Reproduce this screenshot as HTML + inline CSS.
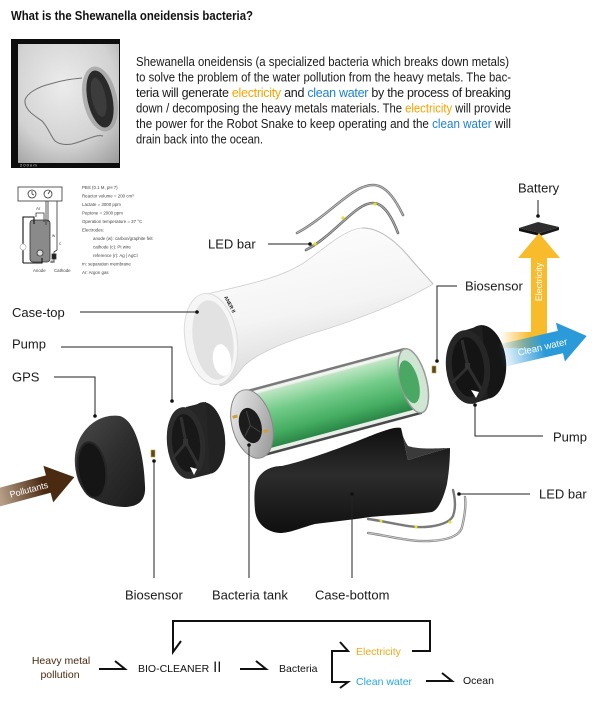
<!DOCTYPE html>
<html><head><meta charset="utf-8"><style>
html,body{margin:0;padding:0;background:#fff;}
svg{display:block;}
text{font-family:"Liberation Sans","DejaVu Sans",sans-serif;}
</style></head><body>
<svg width="600" height="705" viewBox="0 0 600 705" xmlns="http://www.w3.org/2000/svg">
<defs>
<radialGradient id="photo" cx="0.45" cy="0.35" r="0.85">
<stop offset="0" stop-color="#ececec"/><stop offset="0.6" stop-color="#d2d2d2"/><stop offset="1" stop-color="#9a9a9a"/>
</radialGradient>
<linearGradient id="caseTop" x1="0" y1="0" x2="0.3" y2="1">
<stop offset="0" stop-color="#ffffff"/><stop offset="0.6" stop-color="#f4f4f4"/><stop offset="1" stop-color="#d6d6d6"/>
</linearGradient>
<linearGradient id="green" x1="0" y1="0" x2="0" y2="1">
<stop offset="0" stop-color="#bfe6c4"/><stop offset="0.35" stop-color="#74cc8a"/><stop offset="0.75" stop-color="#45ad62"/><stop offset="1" stop-color="#2a8646"/>
</linearGradient>
<linearGradient id="silver" x1="0" y1="0" x2="1" y2="1">
<stop offset="0" stop-color="#f2f2f2"/><stop offset="0.5" stop-color="#c4c4c4"/><stop offset="1" stop-color="#8c8c8c"/>
</linearGradient>
<linearGradient id="black1" x1="0" y1="0" x2="1" y2="1">
<stop offset="0" stop-color="#4a4a4a"/><stop offset="0.5" stop-color="#2e2e2e"/><stop offset="1" stop-color="#1a1a1a"/>
</linearGradient>
<linearGradient id="caseBot" x1="0" y1="0" x2="0" y2="1">
<stop offset="0" stop-color="#101010"/><stop offset="0.45" stop-color="#2c2c2c"/><stop offset="1" stop-color="#0f0f0f"/>
</linearGradient>
<linearGradient id="yel" x1="500" y1="0" x2="530" y2="0" gradientUnits="userSpaceOnUse">
<stop offset="0" stop-color="#f7bb2c" stop-opacity="0"/><stop offset="1" stop-color="#f7bb2c"/>
</linearGradient>
<linearGradient id="blu" x1="0" y1="0" x2="45" y2="0" gradientUnits="userSpaceOnUse">
<stop offset="0" stop-color="#2a9ad8" stop-opacity="0"/><stop offset="1" stop-color="#2a9ad8"/>
</linearGradient>
<linearGradient id="brn" x1="0" y1="0" x2="45" y2="0" gradientUnits="userSpaceOnUse">
<stop offset="0" stop-color="#b8a088"/><stop offset="1" stop-color="#4b2a12"/>
</linearGradient>
</defs>

<!-- Title -->
<text x="11" y="20" font-size="13" font-weight="bold" fill="#111" textLength="242" lengthAdjust="spacingAndGlyphs">What is the Shewanella oneidensis bacteria?</text>

<!-- Photo -->
<rect x="11" y="39" width="109" height="129" fill="#0d0d0d"/>
<rect x="18" y="44" width="101" height="119" fill="url(#photo)"/>
<path d="M82,78 C72,79 63,80 50,84 C38,87 27,93 25,100 C24,110 35,116 42,121 C48,127 50,135 55,141 C60,145 66,145 72,144 C85,141 95,134 103,136" fill="none" stroke="#707070" stroke-width="1"/>
<ellipse cx="100" cy="99" rx="17" ry="33" transform="rotate(-12 100 99)" fill="#9a9a9a" opacity="0.7"/>
<ellipse cx="100" cy="99" rx="12.5" ry="29" transform="rotate(-12 100 99)" fill="#2a2a2a"/>
<ellipse cx="99" cy="97" rx="7" ry="20" transform="rotate(-12 100 99)" fill="#3c3c3c"/>
<text x="20" y="166.5" font-size="4" fill="#ddd">2 0 0 n m</text>

<!-- Paragraph -->
<g font-size="12.5" fill="#1a1a1a">
<text x="136" y="66" textLength="373" lengthAdjust="spacingAndGlyphs">Shewanella oneidensis (a specialized bacteria which breaks down metals)</text>
<text x="136" y="81.5" textLength="375" lengthAdjust="spacingAndGlyphs">to solve the problem of the water pollution from the heavy metals. The bac-</text>
<text x="136" y="97" textLength="375" lengthAdjust="spacing">teria will generate <tspan fill="#f4a300">electricity</tspan> and <tspan fill="#1b82d2">clean water</tspan> by the process of breaking</text>
<text x="136" y="112.5" textLength="375" lengthAdjust="spacingAndGlyphs">down / decomposing the heavy metals materials. The <tspan fill="#f4a300">electricity</tspan> will provide</text>
<text x="136" y="128" textLength="375" lengthAdjust="spacingAndGlyphs">the power for the Robot Snake to keep operating and the <tspan fill="#1b82d2">clean water</tspan> will</text>
<text x="136" y="143.5" textLength="127" lengthAdjust="spacingAndGlyphs">drain back into the ocean.</text>
</g>

<!-- Electrochem diagram -->
<g stroke="#333" stroke-width="0.8" fill="none">
<rect x="18" y="187" width="44" height="14"/>
<circle cx="32" cy="194" r="4" fill="#fff"/>
<circle cx="48" cy="194" r="4" fill="#fff"/>
<path d="M32,194 L32,191 M32,194 L34,195 M48,194 L50,191"/>
<rect x="30" y="220" width="20" height="42" rx="3" fill="#8a8a8a"/>
<path d="M46,201 L46,225 M48,201 L48,222 M57,201 L57,250 L54,252 L54,262 L50,262"/>
<path d="M23,263 L23,217 L34,217 L34,224 M23,263 L42,263 L42,258" stroke="#111" stroke-width="1.1"/>
<path d="M36,217 L36,213 L44,213 L44,222"/>
<circle cx="40" cy="253" r="3" fill="#ddd"/>
<circle cx="23" cy="247" r="3" fill="#fff" stroke="#bbb"/>
<rect x="52" y="254" width="4" height="5" fill="#222"/>
</g>
<g font-size="4.4" fill="#444">
<text x="36" y="210">Ar</text><text x="52" y="237">w</text><text x="59" y="245">c</text><text x="51" y="263">m</text>
<text x="33" y="272">Anode</text><text x="54" y="272">Cathode</text>
<text x="82" y="189">PBS (0.1 M, pH 7)</text>
<text x="82" y="197.5">Reactor volume = 200 cm³</text>
<text x="82" y="206">Lactate = 3000 ppm</text>
<text x="82" y="214.5">Peptone = 2000 ppm</text>
<text x="82" y="223">Operation temperature = 37 °C</text>
<text x="82" y="231.5">Electrodes:</text>
<text x="93" y="240">anode (w): carbon/graphite felt</text>
<text x="93" y="248.5">cathode (c): Pt wire</text>
<text x="93" y="257">reference (r): Ag | AgCl</text>
<text x="82" y="265.5">m: separation membrane</text>
<text x="82" y="274">Ar: Argon gas</text>
</g>

<!-- LED bars upper -->
<g fill="none" stroke-linecap="round">
<path d="M297,233 C330,215 352,185 373,185 C388,185 398,205 403,215" stroke="#7a7a7a" stroke-width="2.6"/>
<path d="M297,233 C330,215 352,185 373,185 C388,185 398,205 403,215" stroke="#c8c8c8" stroke-width="0.8"/>
<path d="M306,250 C335,235 355,203 373,203 C385,203 393,220 398,233" stroke="#6a6a6a" stroke-width="2.6"/>
<path d="M306,250 C335,235 355,203 373,203 C385,203 393,220 398,233" stroke="#bcbcbc" stroke-width="0.8"/>
</g>
<circle cx="315" cy="244" r="1.6" fill="#e6e020"/><circle cx="343" cy="218" r="1.6" fill="#e6e020"/><circle cx="375" cy="204" r="1.6" fill="#e6e020"/>

<!-- Case-top -->
<path d="M207,294 C240,286 280,279 305,262 C325,248 345,229 362,228 C378,227 396,241 410,258 C420,270 429,279 433,284 C410,298 370,315 330,328 C290,340 258,352 244,366 C236,376 230,384 220,386 Z" fill="url(#caseTop)" stroke="#cfcfcf" stroke-width="0.8"/>
<path d="M362,228 C378,227 396,241 410,258 C420,270 429,279 433,284" fill="none" stroke="#bdbdbd" stroke-width="1"/>
<ellipse cx="211" cy="339" rx="26" ry="46" transform="rotate(-9 211 339)" fill="#f6f6f6" stroke="#dcdcdc" stroke-width="1"/>
<ellipse cx="213" cy="340" rx="20" ry="40" transform="rotate(-9 213 340)" fill="#e2e2e2"/>
<ellipse cx="222" cy="360" rx="9" ry="16" transform="rotate(-9 222 360)" fill="#ffffff"/>
<text x="224" y="297" font-size="5" font-weight="bold" fill="#222" transform="rotate(62 224 297)">ANER II</text>

<!-- Bacteria tank -->
<g transform="translate(252,424) rotate(-15)">
<rect x="0" y="-33" width="167" height="66" fill="#e8eee8" stroke="#a0a0a0" stroke-width="1"/>
<rect x="6" y="-28" width="156" height="56" fill="url(#green)"/>
<path d="M0,-33 L167,-33" stroke="#7a7a7a" stroke-width="2.5"/>
<path d="M4,-30 L160,-30" stroke="#ffffff" stroke-width="1" opacity="0.7"/>
<path d="M0,33 L167,33" stroke="#4a4a4a" stroke-width="2.5"/>
<ellipse cx="167" cy="0" rx="13" ry="33" fill="#cfe6d2" stroke="#9a9a9a" stroke-width="1.5"/>
<ellipse cx="163" cy="0" rx="9" ry="22" fill="#4aa864"/>
<ellipse cx="0" cy="0" rx="20" ry="35" fill="url(#silver)" stroke="#888" stroke-width="1"/>
<ellipse cx="-2" cy="1" rx="11" ry="18" fill="#1c1c1c"/>
<path d="M-2,1 L-2,-14 M-2,1 L-10,10 M-2,1 L6,10" stroke="#444" stroke-width="1"/>
<rect x="-17" y="-13" width="5" height="3" fill="#c9a23a"/>
<rect x="9" y="9" width="5" height="3" fill="#c9a23a"/>
</g>

<!-- Case-bottom -->
<path d="M257,480 C262,470 272,466 282,466 C300,462 330,452 360,440 C380,432 395,426 401,428 C404,440 406,452 408,460 C425,455 440,450 450,448 C450,465 448,478 447,484 C443,500 438,510 432,512 C410,515 390,515 370,517 C350,520 330,522 315,524 C300,528 290,533 280,533 C265,532 256,522 255,510 C254,498 254,488 257,480 Z" fill="url(#caseBot)"/>
<path d="M401,428 C404,440 406,452 408,460 C425,455 440,450 450,448 C440,448 420,450 408,446 C404,440 402,434 401,428 Z" fill="#3a3a3a"/>

<!-- LED bars right -->
<g fill="none" stroke-linecap="round">
<path d="M368,519 C390,522 410,528 425,527 C440,526 450,522 453,516 C456,508 455,498 453,490" stroke="#7a7a7a" stroke-width="2.4"/>
<path d="M368,533 C390,536 410,542 430,541 C450,540 460,535 462,527 C465,515 466,505 465,497" stroke="#8a8a8a" stroke-width="2.4"/>
<path d="M368,533 C390,536 410,542 430,541 C450,540 460,535 462,527 C465,515 466,505 465,497" stroke="#d6d6d6" stroke-width="0.8"/>
</g>
<circle cx="381" cy="521" r="1.5" fill="#e6e020"/><circle cx="416" cy="527" r="1.5" fill="#e6e020"/><circle cx="450" cy="522" r="1.5" fill="#e6e020"/>

<!-- GPS dome -->
<path d="M80,438 C90,420 106,414 120,416 C136,421 144,455 145,486 C146,500 139,507 124,507 C104,506 85,499 78,480 C73,465 74,450 80,438 Z" fill="url(#black1)"/>
<ellipse cx="92" cy="470" rx="14" ry="28" transform="rotate(-8 92 470)" fill="#151515" stroke="#262626" stroke-width="2"/>

<!-- Left pump -->
<ellipse cx="206" cy="438" rx="19" ry="36" transform="rotate(-6 206 438)" fill="#222"/>
<path d="M186,407 L206,402 L210,474 L190,479 Z" fill="#262626"/>
<ellipse cx="186" cy="443" rx="19" ry="36" transform="rotate(-6 186 443)" fill="#2c2c2c"/>
<ellipse cx="186" cy="443" rx="14" ry="29" transform="rotate(-6 186 443)" fill="#181818"/>
<path d="M186,443 L181,417 M186,443 L172,459 M186,443 L198,465" stroke="#303030" stroke-width="3"/>
<path d="M190,467 L197,469 L194,475 Z" fill="#fff"/>
<rect x="183" y="439" width="5" height="6" fill="#333"/>

<!-- Right pump -->
<ellipse cx="484" cy="362" rx="22" ry="37" transform="rotate(-6 484 362)" fill="#161616"/>
<path d="M466,330 L482,325 L488,399 L472,404 Z" fill="#1f1f1f"/>
<ellipse cx="468" cy="367" rx="22" ry="37" transform="rotate(-6 468 367)" fill="#262626"/>
<ellipse cx="468" cy="367" rx="16" ry="30" transform="rotate(-6 468 367)" fill="#141414"/>
<path d="M468,367 L462,340 M468,367 L452,383 M468,367 L481,389" stroke="#2e2e2e" stroke-width="3"/>
<path d="M471,390 L479,392 L476,398 Z" fill="#fff"/>
<rect x="465" y="363" width="5" height="6" fill="#333"/>

<!-- biosensor chips -->
<rect x="151" y="450" width="4" height="7" fill="#5a4a22" stroke="#c9a23a" stroke-width="0.6"/>
<rect x="432" y="366" width="4" height="7" fill="#5a4a22" stroke="#c9a23a" stroke-width="0.6"/>

<!-- Battery -->
<path d="M519,228 L540,233 L540,236 L519,231 Z" fill="#111"/>
<path d="M540,233 L559,227 L559,230 L540,236 Z" fill="#1a1a1a"/>
<path d="M519,228 L538,222 L559,227 L540,233 Z" fill="#2e2e2e"/>

<!-- Electricity arrow -->
<path d="M500,332 L531,332 L531,257 L547,257 L547,348 L500,348 Z" fill="url(#yel)"/>
<path d="M531,257 L531,340 L547,340 L547,257 Z" fill="#f7bb2c"/>
<path d="M518,258 L539,233 L560,258 Z" fill="#f7bb2c"/>
<text x="542" y="282" font-size="9" fill="#fff" text-anchor="middle" transform="rotate(-90 542 282)">Electricity</text>

<!-- Clean water arrow -->
<g transform="translate(500,356) rotate(-13)">
<rect x="0" y="-11.5" width="64" height="23" fill="url(#blu)"/>
<path d="M62,-20 L89,0 L62,20 Z" fill="#2a9ad8"/>
<text x="18" y="4" font-size="9.5" fill="#fff">Clean water</text>
</g>

<!-- Pollutants arrow -->
<g transform="translate(0,497) rotate(-15)">
<rect x="-5" y="-9" width="56" height="18" fill="url(#brn)"/>
<path d="M50,-19 L77,0 L50,19 Z" fill="#4b2a12"/>
<text x="10" y="3.5" font-size="9" fill="#fff">Pollutants</text>
</g>

<!-- Leader lines -->
<g stroke="#222" stroke-width="1" fill="none">
<path d="M268,244 L310,244"/>
<path d="M538,200 L538,216"/>
<path d="M457,286 L437,286 L437,361"/>
<path d="M80,312 L197,312"/>
<path d="M61,347 L172,347 L172,401"/>
<path d="M54,377 L95,377 L95,416"/>
<path d="M154,461 L154,578"/>
<path d="M249,445 L249,578"/>
<path d="M352,494 L352,578"/>
<path d="M475,405 L475,436 L543,436"/>
<path d="M459,494 L530,494"/>
</g>
<g fill="#111">
<circle cx="310" cy="244" r="1.8"/><circle cx="538" cy="216" r="1.8"/><circle cx="437" cy="361" r="1.8"/>
<circle cx="197" cy="312" r="1.8"/><circle cx="172" cy="401" r="1.8"/><circle cx="95" cy="416" r="1.8"/>
<circle cx="154" cy="461" r="1.8"/><circle cx="249" cy="445" r="1.8"/><circle cx="352" cy="494" r="1.8"/>
<circle cx="475" cy="405" r="1.8"/><circle cx="459" cy="494" r="1.8"/>
</g>

<!-- Labels -->
<g font-size="13" fill="#1a1a1a">
<text x="208" y="248.5">LED bar</text>
<text x="518" y="192.5">Battery</text>
<text x="465" y="290.5">Biosensor</text>
<text x="12" y="317">Case-top</text>
<text x="12" y="348.5">Pump</text>
<text x="12" y="381.5">GPS</text>
<text x="125" y="599.5">Biosensor</text>
<text x="212" y="599.5">Bacteria tank</text>
<text x="315" y="599.5">Case-bottom</text>
<text x="553" y="441.5">Pump</text>
<text x="539" y="498.5">LED bar</text>
</g>

<!-- Flow diagram -->
<g font-size="10.5">
<text x="61" y="664" fill="#4a2a10" text-anchor="middle">Heavy metal</text>
<text x="60" y="678" fill="#4a2a10" text-anchor="middle">pollution</text>
<text x="138" y="672" fill="#111">BIO-CLEANER<tspan font-size="14" font-family="Liberation Serif, Noto Sans CJK SC, serif" dx="1">Ⅱ</tspan></text>
<text x="279" y="672" fill="#111">Bacteria</text>
<text x="356" y="655" fill="#f0a818">Electricity</text>
<text x="356" y="685" fill="#22a6ea">Clean water</text>
<text x="463" y="684" fill="#111">Ocean</text>
</g>
<g stroke="#111" stroke-width="2" fill="none">
<path d="M99,669 L125,669 L115,661"/>
<path d="M240,669 L266,669 L256,661"/>
<path d="M426,681 L452,681 L442,673"/>
<path d="M340,642 L348,651 L332,651 L332,682 L348,682 L340,688"/>
<path d="M412,651 L430,651 L430,621 L173,621 L173,652 L181,641"/>
</g>
</svg>
</body></html>
